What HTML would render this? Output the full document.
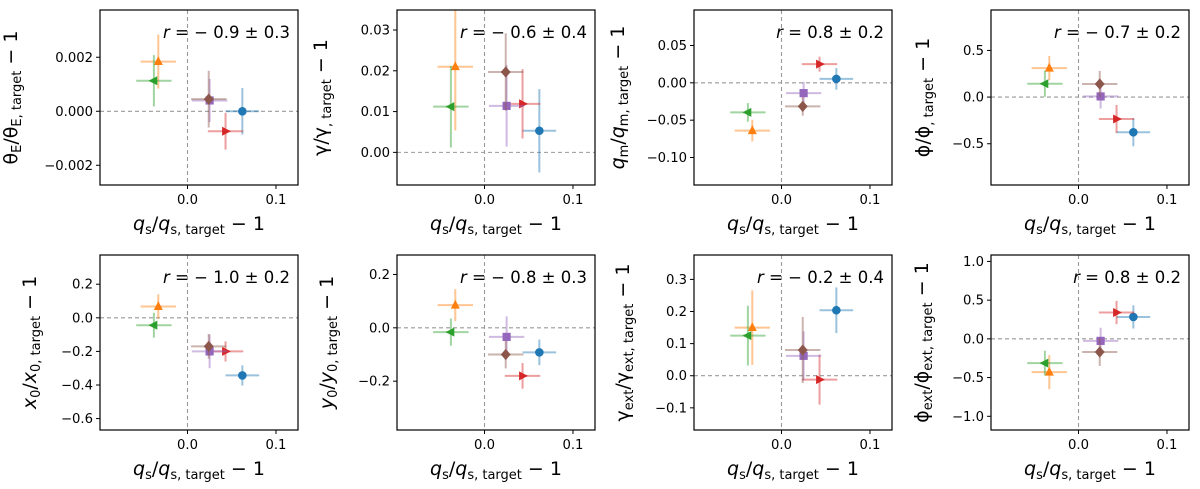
<!DOCTYPE html>
<html><head><meta charset="utf-8"><style>
html,body{margin:0;padding:0;background:#fff;}
svg{display:block;font-family:"DejaVu Sans","Liberation Sans",sans-serif;}
</style></head><body>
<svg id="fig" width="1200" height="489" viewBox="0 0 1200 489" xmlns="http://www.w3.org/2000/svg"></svg>
<script>
// shared x data (q_s/q_s,target - 1)
const seriesNames = ['blue','orange','green','red','purple','brown'];
const xVals = [0.062, -0.033, -0.038, 0.043, 0.025, 0.024];
const xErrs = [0.019, 0.02, 0.02, 0.02, 0.02, 0.02];
// per-panel y data
const yP1 = [0.0, 0.00184, 0.00113, -0.00074, 0.0004, 0.00045];
const eP1 = [0.00086, 0.001, 0.00095, 0.00068, 0.0008, 0.00105];
const yP2 = [0.0053, 0.021, 0.0112, 0.0119, 0.0114, 0.0197];
const eP2 = [0.0102, 0.0156, 0.010, 0.0085, 0.010, 0.0095];
const yP3 = [0.0053, -0.064, -0.0396, 0.025, -0.0138, -0.0315];
const eP3 = [0.0145, 0.0145, 0.0125, 0.01, 0.015, 0.0125];
const yP4 = [-0.377, 0.31, 0.143, -0.235, 0.007, 0.14];
const eP4 = [0.15, 0.13, 0.14, 0.15, 0.13, 0.14];
const yP5 = [-0.343, 0.067, -0.044, -0.2, -0.2, -0.17];
const eP5 = [0.06, 0.073, 0.074, 0.06, 0.1, 0.074];
const yP6 = [-0.092, 0.085, -0.016, -0.18, -0.034, -0.10];
const eP6 = [0.048, 0.06, 0.051, 0.048, 0.077, 0.052];
const yP7 = [0.204, 0.15, 0.125, -0.012, 0.062, 0.08];
const eP7 = [0.071, 0.116, 0.093, 0.078, 0.076, 0.103];
const yP8 = [0.283, -0.43, -0.313, 0.34, -0.026, -0.17];
const eP8 = [0.15, 0.22, 0.16, 0.15, 0.17, 0.18];
const yTicks1 = [-0.002, 0.0, 0.002];
const yTicks2 = [0.0, 0.01, 0.02, 0.03];
const yTicks3 = [-0.10, -0.05, 0.0, 0.05];
const yTicks4 = [-0.5, 0.0, 0.5];
const yTicks5 = [-0.6, -0.4, -0.2, 0.0, 0.2];
const yTicks6 = [-0.2, 0.0, 0.2];
const yTicks7 = [-0.1, 0.0, 0.1, 0.2, 0.3];
const yTicks8 = [-1.0, -0.5, 0.0, 0.5, 1.0];
const xTicks = [0.0, 0.1];
const rTexts = ['−0.9 ± 0.3','−0.6 ± 0.4','0.8 ± 0.2','−0.7 ± 0.2','−1.0 ± 0.2','−0.8 ± 0.3','−0.2 ± 0.4','0.8 ± 0.2'];

const colors = ['#1f77b4','#ff7f0e','#2ca02c','#d62728','#9467bd','#8c564b'];
const markers = ['circle','tri-up','tri-left','tri-right','square','diamond'];
const NS = 'http://www.w3.org/2000/svg';
const svg = document.getElementById('fig');
function mk(tag, attrs, parent){const e=document.createElementNS(NS,tag);for(const k in attrs)e.setAttribute(k,attrs[k]);(parent||svg).appendChild(e);return e;}

const panels = [
 {y:yP1,e:eP1,t:yTicks1,r:[-0.00273,0.00375],dec:3,lab:['θ','E'],left:100,top:10,off:83},
 {y:yP2,e:eP2,t:yTicks2,r:[-0.0080,0.0349],dec:2,lab:['γ',''],left:397,top:10,off:70},
 {y:yP3,e:eP3,t:yTicks3,r:[-0.1368,0.0975],dec:2,lab:['q','m'],left:694,top:10,off:70},
 {y:yP4,e:eP4,t:yTicks4,r:[-0.942,0.933],dec:1,lab:['ϕ',''],left:991,top:10,off:62},
 {y:yP5,e:eP5,t:yTicks5,r:[-0.668,0.374],dec:1,lab:['x','0'],left:100,top:255,off:64},
 {y:yP6,e:eP6,t:yTicks6,r:[-0.383,0.273],dec:1,lab:['y','0'],left:397,top:255,off:64},
 {y:yP7,e:eP7,t:yTicks7,r:[-0.169,0.376],dec:1,lab:['γ','ext'],left:694,top:255,off:65},
 {y:yP8,e:eP8,t:yTicks8,r:[-1.177,1.083],dec:1,lab:['ϕ','ext'],left:991,top:255,off:63},
];
const W=198, H=175, XMIN=-0.0989, XMAX=0.1249;

function fmt(v,d){const s=Math.abs(v).toFixed(d);return (v<-1e-12?'−':'')+s;}

function marker(g,type,cx,cy,col){
  const s=4.3;let el;
  if(type==='circle') el=mk('circle',{cx:cx,cy:cy,r:s},g);
  else if(type==='square') el=mk('rect',{x:cx-s*0.95,y:cy-s*0.95,width:s*1.9,height:s*1.9},g);
  else {
    let p;
    if(type==='tri-up') p=[[cx,cy-s*1.25],[cx-s*1.05,cy+s*0.8],[cx+s*1.05,cy+s*0.8]];
    else if(type==='tri-left') p=[[cx-s*1.25,cy],[cx+s*0.8,cy-s*1.05],[cx+s*0.8,cy+s*1.05]];
    else if(type==='tri-right') p=[[cx+s*1.25,cy],[cx-s*0.8,cy-s*1.05],[cx-s*0.8,cy+s*1.05]];
    else p=[[cx,cy-s*1.3],[cx+s*1.15,cy],[cx,cy+s*1.3],[cx-s*1.15,cy]];
    el=mk('polygon',{points:p.map(q=>q.join(',')).join(' ')},g);
  }
  el.setAttribute('fill',col);
  return el;
}

panels.forEach((P,pi)=>{
  const L=P.left,T=P.top;
  const sx=v=>L+(v-XMIN)/(XMAX-XMIN)*W;
  const sy=v=>T+H-(v-P.r[0])/(P.r[1]-P.r[0])*H;
  const g=mk('g',{});
  
  
  const clipId='clip'+pi;
  const cp=mk('clipPath',{id:clipId},g);mk('rect',{x:L,y:T,width:W,height:H},cp);
  const ref=mk('g',{'clip-path':'url(#'+clipId+')'},g);
  const hz=mk('line',{x1:L,x2:L+W,y1:sy(0),y2:sy(0),stroke:'#999',"stroke-width":1.1,"stroke-dasharray":'4,3'},ref);
  
  
  const vz=mk('line',{x1:sx(0),x2:sx(0),y1:T,y2:T+H,stroke:'#999',"stroke-width":1.1,"stroke-dasharray":'4,3'},ref);
  
  
  const pts=mk('g',{'clip-path':'url(#'+clipId+')'},g);
  for(let i=0;i<xVals.length;i++){
    const pg=mk('g',{},pts);
    
    
    const cx=sx(xVals[i]),cy=sy(P.y[i]);
    mk('line',{x1:sx(xVals[i]-xErrs[i]),x2:sx(xVals[i]+xErrs[i]),y1:cy,y2:cy,stroke:colors[i],'stroke-width':2,'stroke-opacity':0.45},pg);
    mk('line',{x1:cx,x2:cx,y1:sy(P.y[i]-P.e[i]),y2:sy(P.y[i]+P.e[i]),stroke:colors[i],'stroke-width':2,'stroke-opacity':0.45},pg);
    marker(pg,markers[i],cx,cy,colors[i]);
  }
  const fr=mk('rect',{x:L,y:T,width:W,height:H,fill:'none',stroke:'#000','stroke-width':1.2},g);
  
  
  P.t.forEach(v=>{
    const y=sy(v);
    mk('line',{x1:L-4,x2:L,y1:y,y2:y,stroke:'#000','stroke-width':1},g);
    const tx=mk('text',{x:L-7,y:y+4.5,'text-anchor':'end','font-size':13.2,fill:'#000'},g);
    tx.textContent=fmt(v,P.dec);
    
    
  });
  xTicks.forEach(v=>{
    const x=sx(v);
    mk('line',{x1:x,x2:x,y1:T+H,y2:T+H+4,stroke:'#000','stroke-width':1},g);
    const tx=mk('text',{x:x,y:T+H+19,'text-anchor':'middle','font-size':13.2,fill:'#000'},g);
    tx.textContent=fmt(v,1);
    
    
  });
  const rt=mk('text',{x:L+W-8,y:T+28,'text-anchor':'end','font-size':16.5,fill:'#000'},g);
  
  
  rt.innerHTML='<tspan font-style="italic">r</tspan> = '+rTexts[pi].replace('−','− ');
  const xl=mk('text',{x:L+W/2,y:T+H+45,'text-anchor':'middle','font-size':19,fill:'#000'},g);
  
  
  xl.innerHTML='<tspan font-style="italic">q</tspan><tspan font-size="13" dy="4">s</tspan><tspan dy="-4">/</tspan><tspan font-style="italic">q</tspan><tspan font-size="13" dy="4">s, target</tspan><tspan dy="-4"> − 1</tspan>';
  const cx=L-P.off, cy=T+H/2;
  const yl=mk('text',{x:cx,y:cy,'text-anchor':'middle','font-size':19,fill:'#000',transform:'rotate(-90 '+cx+' '+cy+')'},g);
  
  
  const sym=P.lab[0],sub=P.lab[1];
  const it=(sym==='q'||sym==='x'||sym==='y')?' font-style="italic"':'';
  const subA=sub?'<tspan font-size="13" dy="4">'+sub+'</tspan><tspan dy="-4">/</tspan>':'<tspan>/</tspan>';
  const subB=(sub?sub+', ':', ')+'target';
  yl.innerHTML='<tspan'+it+'>'+sym+'</tspan>'+subA+'<tspan'+it+'>'+sym+'</tspan><tspan font-size="13" dy="4">'+subB+'</tspan><tspan dy="-4"> − 1</tspan>';
});
</script>
</body></html>
